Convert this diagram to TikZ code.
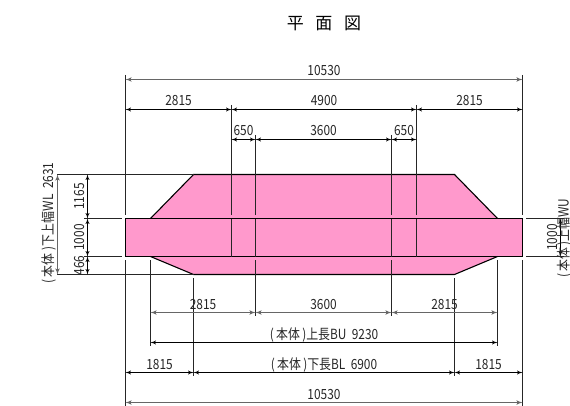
\documentclass[tikz,border=0pt]{standalone}
\usepackage{fontspec}
\setmainfont[FakeStretch=0.85]{Noto Sans CJK JP}
\newfontfamily\titlefont{Noto Sans CJK JP}
\usetikzlibrary{arrows, calc}
\definecolor{bodypink}{RGB}{255,153,204}

\begin{document}
\begin{tikzpicture}[x=1pt, y=-1pt, >=latex',
    lbl/.style={inner sep=0pt, text height=10pt, text depth=0pt, font=\fontsize{14}{15}\selectfont, text=black!85, yshift=8.5pt},
    vlbl/.style={inner sep=0pt, text height=10pt, text depth=0pt, font=\fontsize{14}{15}\selectfont, text=black!85, rotate=90},
    sidelbl/.style={vlbl, yshift=8.5pt},
    dimline/.style={<->, line width=.9pt, black},
    greydim/.style={<->, line width=1.1pt, black!60},
    ext/.style={line width=1.1pt, black!85},
    outline/.style={line width=1.1pt, black}]
\useasboundingbox (0, 0) rectangle (570, 406);
% body
\coordinate (TL) at (193.5, 174.5);
\coordinate (TR) at (454.5, 174.5);
\coordinate (ML) at (150.5, 218.5);
\coordinate (MR) at (497.5, 218.5);
\coordinate (NL) at (150.5, 256.5);
\coordinate (NR) at (497.5, 256.5);
\coordinate (BL) at (193.5, 274.5);
\coordinate (BR) at (454.5, 274.5);
\coordinate (EL) at (125.5, 218.5);
\coordinate (ER) at (522.5, 218.5);
\coordinate (FL) at (125.5, 256.5);
\coordinate (FR) at (522.5, 256.5);
\fill[bodypink] (TL) -- (TR) -- (MR) -- (ER) -- (FR) -- (NR) -- (BR) -- (BL) -- (NL) -- (FL) -- (EL) -- (ML) -- cycle;
\draw[outline] (ML) -- (TL) -- (TR) -- (MR);
\draw[outline] (NL) -- (BL) -- (BR) -- (NR);
\draw[outline] (EL) -- (ER) -- (FR) -- (FL) -- cycle;
% title
\node[inner sep=0pt, font=\titlefont\fontsize{17}{18}\selectfont] (title) at (324, 23) {平\hspace{.68em}面\hspace{.68em}図};
% extension lines
\draw[ext] (125.5, 75) -- (125.5, 215);
\draw[ext] (125.5, 260) -- (125.5, 406);
\draw[ext] (522.5, 75) -- (522.5, 215);
\draw[ext] (522.5, 260) -- (522.5, 406);
\draw[ext] (231.5, 105) -- (231.5, 215);
\draw[ext] (231.5, 218.5) -- (231.5, 256.5);
\draw[ext] (416.5, 105) -- (416.5, 215);
\draw[ext] (416.5, 218.5) -- (416.5, 256.5);
\draw[ext] (255.5, 135) -- (255.5, 215);
\draw[ext] (255.5, 218.5) -- (255.5, 256.5);
\draw[ext] (255.5, 260) -- (255.5, 316);
\draw[ext] (391.5, 135) -- (391.5, 215);
\draw[ext] (391.5, 218.5) -- (391.5, 256.5);
\draw[ext] (391.5, 260) -- (391.5, 316);
\draw[ext] (150.5, 260) -- (150.5, 346);
\draw[ext] (497.5, 260) -- (497.5, 346);
\draw[ext] (193.5, 278) -- (193.5, 376);
\draw[ext] (454.5, 278) -- (454.5, 376);
\draw[ext] (57, 174.5) -- (TL);
\draw[ext] (57, 274.5) -- (BL);
\draw[ext] (84, 218.5) -- (122, 218.5);
\draw[ext] (84, 256.5) -- (122, 256.5);
\draw[ext] (526, 218.5) -- (564, 218.5);
\draw[ext] (526, 256.5) -- (564, 256.5);
% top dimensions
\draw[greydim] (125.5, 79.5) -- node[lbl] {10530} (522.5, 79.5);
\draw[dimline] (125.5, 109.5) -- node[lbl] {2815} (231.5, 109.5);
\draw[dimline] (231.5, 109.5) -- node[lbl] {4900} (416.5, 109.5);
\draw[dimline] (416.5, 109.5) -- node[lbl] {2815} (522.5, 109.5);
\draw[dimline] (231.5, 139.5) -- node[lbl] {650} (255.5, 139.5);
\draw[dimline] (255.5, 139.5) -- node[lbl] {3600} (391.5, 139.5);
\draw[dimline] (391.5, 139.5) -- node[lbl] {650} (416.5, 139.5);
% bottom dimensions
\draw[greydim] (150.5, 312.5) -- node[lbl] {2815} (255.5, 312.5);
\draw[greydim] (255.5, 312.5) -- node[lbl] {3600} (391.5, 312.5);
\draw[greydim] (391.5, 312.5) -- node[lbl] {2815} (497.5, 312.5);
\draw[dimline] (150.5, 342.5) -- node[lbl] {(\,本体\,)上長BU\ \ 9230} (497.5, 342.5);
\draw[dimline] (125.5, 372.5) -- node[lbl] {1815} (193.5, 372.5);
\draw[dimline] (193.5, 372.5) -- node[lbl] {(\,本体\,)下長BL\ \ 6900} (454.5, 372.5);
\draw[dimline] (454.5, 372.5) -- node[lbl] {1815} (522.5, 372.5);
\draw[greydim] (125.5, 402.5) -- node[lbl] {10530} (522.5, 402.5);
% side dimensions
\draw[greydim] (57.5, 174.5) -- (57.5, 274.5);
\node[vlbl] (wl) at (48, 223) {(\,本体\,)下上幅WL\ \ 2631};
\draw[dimline] (87.5, 174.5) -- node[sidelbl] {1165} (87.5, 218.5);
\draw[dimline] (87.5, 218.5) -- node[sidelbl] {1000} (87.5, 256.5);
\draw[dimline] (87.5, 256.5) -- node[sidelbl] {466} (87.5, 274.5);
\draw[dimline] (560.5, 218.5) -- node[sidelbl] {1000} (560.5, 256.5);
\node[vlbl, anchor=west] (wu) at (563.5, 278) {(\,本体\,)上幅WU};
\end{tikzpicture}
\end{document}
